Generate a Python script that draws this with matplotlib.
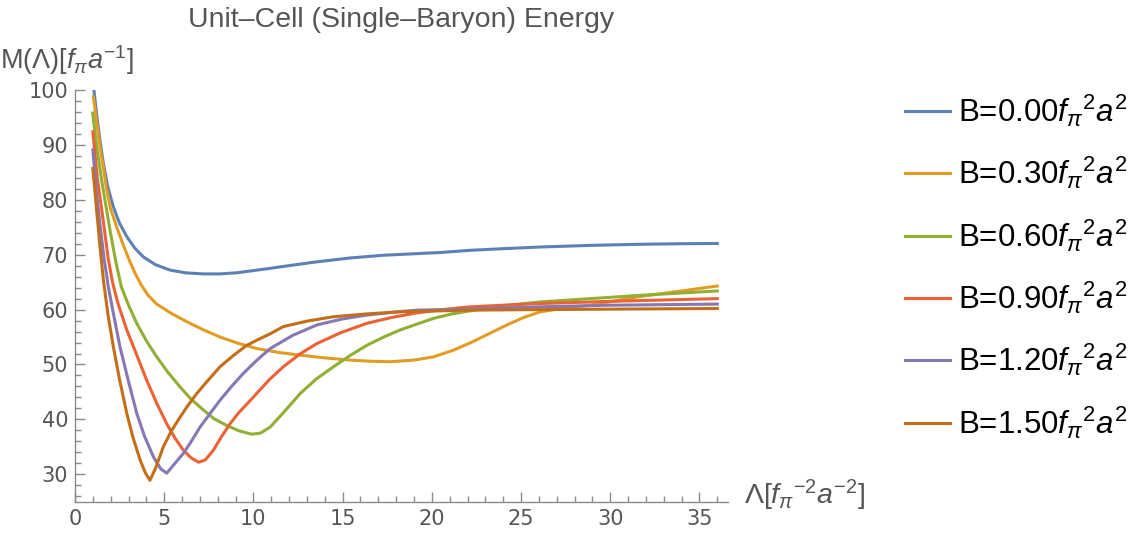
import numpy as np
import matplotlib.pyplot as plt
from matplotlib.ticker import MultipleLocator

plt.rcParams['font.family'] = ['Liberation Sans', 'DejaVu Sans']
plt.rcParams['mathtext.fontset'] = 'custom'
plt.rcParams['mathtext.rm'] = 'Liberation Sans'
plt.rcParams['mathtext.it'] = 'Liberation Sans:italic'

# valores (Lambda, M)
b_labels = ["0.00", "0.30", "0.60", "0.90", "1.20", "1.50"]
cores = ['#5E81B5', '#E19C24', '#8FB032', '#EB6235', '#8778B3', '#C56E1A']

lam_b000 = [1.06, 1.25, 1.4, 1.59, 1.85, 2.15, 2.5, 2.9, 3.35, 3.83, 4.5, 5.32, 6.2, 7.19, 8.1, 9.06,
            10.9, 12.2, 13.55, 15.4, 17.29, 20.47, 22.15, 24, 26.08, 28.9, 31.69, 34, 36]
m_b000 = [100, 94.5, 90.8, 86.6, 82.2, 78.7, 75.7, 73.3, 71.2, 69.6, 68.2, 67.2, 66.7, 66.5, 66.5, 66.7,
          67.5, 68.1, 68.7, 69.4, 69.9, 70.4, 70.8, 71.1, 71.4, 71.7, 71.9, 72.0, 72.05]

lam_b030 = [1.03, 1.2, 1.4, 1.78, 2.0, 2.33, 2.7, 3.08, 3.37, 3.73, 4.1, 4.58, 5.4, 6.26, 7.2, 8.13, 9.1,
            10.19, 11.4, 12.62, 14, 15.42, 16.5, 17.67, 19, 20.1, 21.2, 22.2, 23.2, 24.21, 25.1, 26.08,
            27.5, 28.88, 31.69, 34, 36]
m_b030 = [98.8, 94.5, 89.7, 81.8, 78.3, 75.1, 71.8, 68.7, 66.6, 64.4, 62.6, 61.0, 59.3, 57.8, 56.3, 55.0, 53.9,
          52.9, 52.2, 51.7, 51.2, 50.8, 50.6, 50.5, 50.8, 51.4, 52.6, 54.0, 55.6, 57.2, 58.5, 59.6,
          60.3, 60.8, 62.4, 63.4, 64.3]

lam_b060 = [0.99, 1.2, 1.49, 1.96, 2.3, 2.6, 3.0, 3.46, 4.0, 4.58, 5.2, 5.89, 6.5, 7.2, 7.8, 8.5, 9.2,
            9.91, 10.4, 10.94, 11.7, 12.62, 13.5, 14.49, 15.4, 16.36, 17.3, 18.23, 19.2, 20.1, 21.1,
            22.2, 24, 26.08, 28.9, 31.69, 36]
m_b060 = [95.8, 90.0, 83.6, 74.5, 68.5, 64.1, 60.8, 57.5, 54.3, 51.4, 48.6, 45.9, 43.7, 41.7, 40.1, 38.9, 37.9,
          37.3, 37.5, 38.6, 41.3, 44.7, 47.3, 49.6, 51.6, 53.5, 55.0, 56.3, 57.4, 58.4, 59.2,
          59.8, 60.7, 61.4, 62.0, 62.6, 63.4]

lam_b090 = [1.0, 1.25, 1.59, 1.85, 2.1, 2.4, 2.9, 3.5, 4.02, 4.6, 5.14, 5.6, 6.07, 6.5, 6.92, 7.3, 7.76,
            8.2, 8.69, 9.2, 9.81, 10.4, 10.94, 11.68, 12.6, 13.55, 14.9, 16.36, 17.8, 19.16, 20.6,
            22.15, 24, 26.08, 30, 36]
m_b090 = [92.4, 84.0, 76.0, 69.5, 65.0, 61.2, 56.3, 51.4, 47.1, 42.8, 39.2, 36.6, 34.4, 33.0, 32.2, 32.6, 34.4,
          36.8, 39.2, 41.3, 43.4, 45.5, 47.4, 49.6, 51.9, 53.8, 55.8, 57.5, 58.6, 59.4, 60.0,
          60.5, 60.8, 61.1, 61.5, 62.0]

lam_b120 = [1.0, 1.2, 1.4, 1.62, 1.87, 2.15, 2.52, 3.0, 3.46, 3.9, 4.39, 4.8, 5.14, 5.5, 6.07, 6.5, 7.01,
            7.6, 8.13, 8.8, 9.44, 10.2, 10.94, 12.2, 13.55, 15, 16.36, 17.8, 19.16, 22.15, 26.08, 30, 36]
m_b120 = [89.1, 81.5, 75.5, 69.5, 64.1, 59.3, 53.2, 46.9, 41.1, 36.9, 33.2, 31.0, 30.2, 31.6, 33.8, 35.9, 38.6,
          41.2, 43.5, 46.1, 48.4, 50.8, 52.9, 55.3, 57.2, 58.3, 59.0, 59.5, 59.9, 60.1, 60.5, 60.8, 61.0]

lam_b150 = [1.0, 1.2, 1.4, 1.59, 1.85, 2.15, 2.5, 2.9, 3.25, 3.65, 3.95, 4.2, 4.5, 4.95, 5.4, 5.89, 6.3,
            6.82, 7.4, 8.13, 8.9, 9.63, 10.3, 10.94, 11.68, 13, 14.49, 16.3, 18.2, 22.15, 26.08, 36]
m_b150 = [85.7, 78.5, 71.5, 65.4, 59.0, 53.2, 47.2, 41.1, 36.7, 32.6, 30.2, 28.9, 31.0, 35.0, 37.9, 40.4, 42.4,
          44.7, 46.9, 49.6, 51.7, 53.5, 54.6, 55.6, 56.9, 57.9, 58.7, 59.2, 59.6, 59.9, 60.0, 60.2]

series = [(lam_b000, m_b000), (lam_b030, m_b030), (lam_b060, m_b060),
          (lam_b090, m_b090), (lam_b120, m_b120), (lam_b150, m_b150)]

fig = plt.figure(figsize=(11.47, 5.33), dpi=100)
ax = fig.add_axes([0.0654, 0.0587, 0.5693, 0.7724])

for (lam, m), b, cor in zip(series, b_labels, cores):
    ax.plot(lam, m, color=cor, linewidth=2.2, label=r"B=" + b + r"$f_\pi{}^2a^2$",
            solid_joinstyle='round')

ax.set_xlim(0, 36.6)
ax.set_ylim(25, 100)
ax.xaxis.set_major_locator(MultipleLocator(5))
ax.xaxis.set_minor_locator(MultipleLocator(1))
ax.yaxis.set_major_locator(MultipleLocator(10))
ax.yaxis.set_minor_locator(MultipleLocator(2))
ax.set_yticks([30, 40, 50, 60, 70, 80, 90, 100])

for lado in ['top', 'right']:
    ax.spines[lado].set_visible(False)
for lado in ['left', 'bottom']:
    ax.spines[lado].set_color('#8a8a8a')
    ax.spines[lado].set_linewidth(1.0)

ax.tick_params(which='both', direction='in', color='#8a8a8a', labelcolor='#555555',
               labelsize=15, pad=5)
ax.tick_params(which='major', length=7, width=1)
ax.tick_params(which='minor', length=4, width=1)
for lbl in ax.get_xticklabels() + ax.get_yticklabels():
    lbl.set_family('DejaVu Sans')

fig.text(0.3495, 0.962, "Unit–Cell (Single–Baryon) Energy", ha='center', va='center',
         fontsize=20.5, color='#555555')
fig.text(0.0, 0.887, r"M($\Lambda$)[$f_\pi a^{-1}$]", ha='left', va='center',
         fontsize=19.5, color='#555555')
fig.text(0.649, 0.07, r"$\Lambda$[$f_\pi{}^{-2}a^{-2}$]", ha='left', va='center',
         fontsize=20.5, color='#555555')

fig.legend(loc='upper left', bbox_to_anchor=(0.789, 0.826), frameon=False,
           fontsize=22.5, handlelength=1.45, handletextpad=0.24, labelspacing=0.83,
           borderpad=0, borderaxespad=0)

plt.savefig('out.png', dpi=100)
